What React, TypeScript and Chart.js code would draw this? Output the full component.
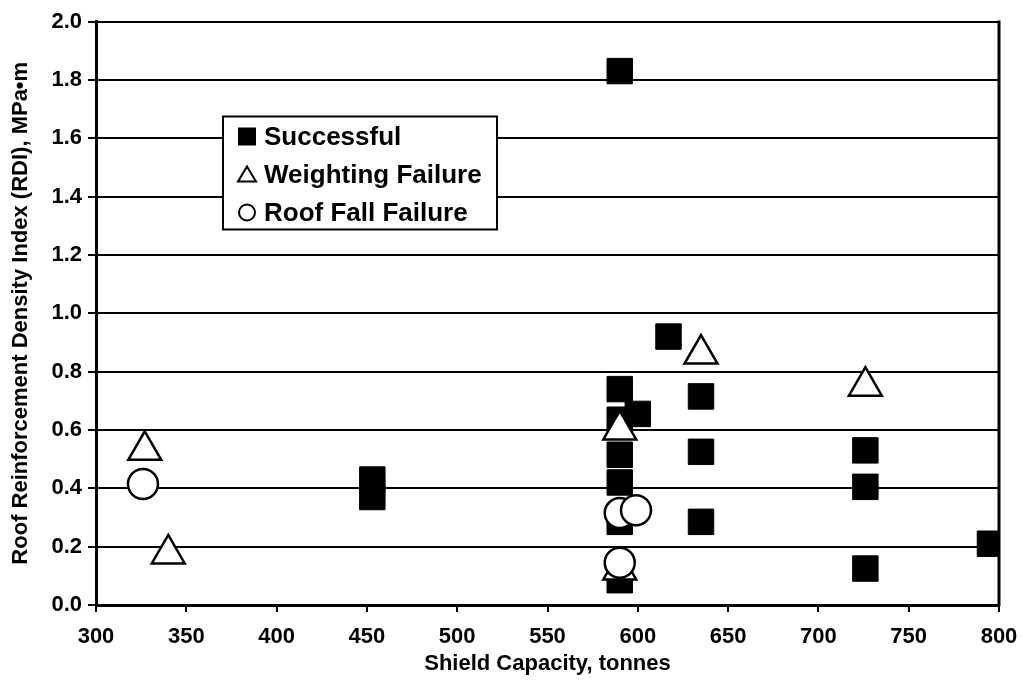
import React, { useEffect, useRef } from "react";
import { Chart, registerables } from "chart.js";

Chart.register(...registerables);

const xTicks = [300, 350, 400, 450, 500, 550, 600, 650, 700, 750, 800];
const yTicks = [0, 0.2, 0.4, 0.6, 0.8, 1.0, 1.2, 1.4, 1.6, 1.8, 2.0];

const seriesLabels = ["Successful", "Weighting Failure", "Roof Fall Failure"];

const successfulX = [590, 617, 590, 600, 590, 590, 590, 590, 590, 635, 635, 635, 453, 453, 726, 726, 726, 795];
const successfulY = [1.83, 0.92, 0.74, 0.655, 0.635, 0.515, 0.42, 0.285, 0.085, 0.715, 0.525, 0.285, 0.43, 0.37, 0.53, 0.405, 0.125, 0.21];

const weightingX = [327, 340, 590, 590, 635, 726];
const weightingY = [0.53, 0.175, 0.6, 0.12, 0.86, 0.75];

const roofFallX = [326, 590, 599, 590];
const roofFallY = [0.415, 0.315, 0.325, 0.145];

const FONT = '"Liberation Sans", Arial, Helvetica, sans-serif';

const toPoints = (xs: number[], ys: number[]) => xs.map((x, i) => ({ x, y: ys[i] }));

const framePlugin = {
  id: "frameAndLegend",
  afterDraw(chart: any) {
    const { ctx, chartArea } = chart;
    ctx.save();
    // right frame line
    ctx.strokeStyle = "#000";
    ctx.lineWidth = 3;
    ctx.beginPath();
    ctx.moveTo(chartArea.right, chartArea.top - 1);
    ctx.lineTo(chartArea.right, chartArea.bottom + 1);
    ctx.stroke();

    // legend box
    const bx = chartArea.left + 127;
    const by = chartArea.top + 95;
    const bw = 274;
    const bh = 113;
    ctx.fillStyle = "#fff";
    ctx.fillRect(bx, by, bw, bh);
    ctx.lineWidth = 2;
    ctx.strokeRect(bx, by, bw, bh);

    const rowH = 38;
    const markerX = bx + 24;
    const textX = bx + 41;
    ctx.font = `bold 26px ${FONT}`;
    ctx.textBaseline = "middle";
    ctx.textAlign = "left";
    chart.data.datasets.forEach((ds: any, i: number) => {
      const cy = by + 20 + i * rowH;
      ctx.lineWidth = 2;
      ctx.strokeStyle = "#000";
      if (ds.pointStyle === "rect") {
        ctx.fillStyle = "#000";
        ctx.fillRect(markerX - 9, cy - 9, 18, 18);
      } else if (ds.pointStyle === "triangle") {
        ctx.fillStyle = "#fff";
        ctx.beginPath();
        ctx.moveTo(markerX, cy - 8);
        ctx.lineTo(markerX + 9, cy + 7);
        ctx.lineTo(markerX - 9, cy + 7);
        ctx.closePath();
        ctx.fill();
        ctx.stroke();
      } else {
        ctx.fillStyle = "#fff";
        ctx.beginPath();
        ctx.arc(markerX, cy, 8, 0, Math.PI * 2);
        ctx.fill();
        ctx.stroke();
      }
      ctx.fillStyle = "#000";
      ctx.fillText(ds.label, textX, cy + 1);
    });
    ctx.restore();
  },
};

export default function App() {
  const canvasRef = useRef<HTMLCanvasElement | null>(null);

  useEffect(() => {
    if (!canvasRef.current) return;
    const chart = new Chart(canvasRef.current, {
      type: "scatter",
      data: {
        datasets: [
          {
            label: seriesLabels[0],
            data: toPoints(successfulX, successfulY),
            pointStyle: "rect",
            pointRadius: 18,
            backgroundColor: "#000",
            borderColor: "#000",
            borderWidth: 1,
            order: 3,
          },
          {
            label: seriesLabels[1],
            data: toPoints(weightingX, weightingY),
            pointStyle: "triangle",
            pointRadius: 19,
            backgroundColor: "#fff",
            borderColor: "#000",
            borderWidth: 2.5,
            order: 2,
          },
          {
            label: seriesLabels[2],
            data: toPoints(roofFallX, roofFallY),
            pointStyle: "circle",
            pointRadius: 15,
            backgroundColor: "#fff",
            borderColor: "#000",
            borderWidth: 2.5,
            order: 1,
          },
        ] as any,
      },
      options: {
        animation: false,
        responsive: true,
        maintainAspectRatio: false,
        events: [],
        layout: { padding: { top: 20, right: 23, left: 0, bottom: 0 } },
        plugins: {
          legend: { display: false },
          tooltip: { enabled: false },
        },
        scales: {
          x: {
            type: "linear",
            min: xTicks[0],
            max: xTicks[xTicks.length - 1],
            afterBuildTicks: (scale: any) => {
              scale.ticks = xTicks.map((v) => ({ value: v }));
            },
            afterFit: (scale: any) => {
              scale.height = 77;
              scale.paddingLeft = 0;
              scale.paddingRight = 0;
            },
            grid: {
              drawOnChartArea: false,
              drawTicks: true,
              tickLength: 7,
              color: "#000",
              lineWidth: 2,
            },
            border: { display: true, color: "#000", width: 3 },
            ticks: {
              color: "#000",
              padding: 12,
              font: { family: FONT, size: 22, weight: "bold" },
              callback: (v: any) => String(v),
            },
            title: {
              display: true,
              text: "Shield Capacity, tonnes",
              color: "#000",
              font: { family: FONT, size: 22, weight: "bold", lineHeight: 1.2 },
              padding: { top: 0, bottom: 5 },
            },
          },
          y: {
            type: "linear",
            min: yTicks[0],
            max: yTicks[yTicks.length - 1],
            afterBuildTicks: (scale: any) => {
              scale.ticks = yTicks.map((v) => ({ value: v }));
            },
            afterFit: (scale: any) => {
              scale.width = 96;
            },
            grid: {
              drawOnChartArea: true,
              drawTicks: true,
              tickLength: 8,
              color: "#000",
              lineWidth: 2,
            },
            border: { display: true, color: "#000", width: 3 },
            ticks: {
              color: "#000",
              padding: 6,
              font: { family: FONT, size: 22, weight: "bold" },
              callback: (v: any) => Number(v).toFixed(1),
            },
            title: {
              display: true,
              text: "Roof Reinforcement Density Index (RDI), MPa•m",
              color: "#000",
              font: { family: FONT, size: 22, weight: "bold", lineHeight: 1.2 },
              padding: { top: 8, bottom: 0 },
            },
          },
        },
      } as any,
      plugins: [framePlugin],
    });
    return () => chart.destroy();
  }, []);

  return (
    <div style={{ position: "absolute", left: 0, top: 0, width: 1022, height: 682, background: "#fff" }}>
      <canvas ref={canvasRef} />
    </div>
  );
}
